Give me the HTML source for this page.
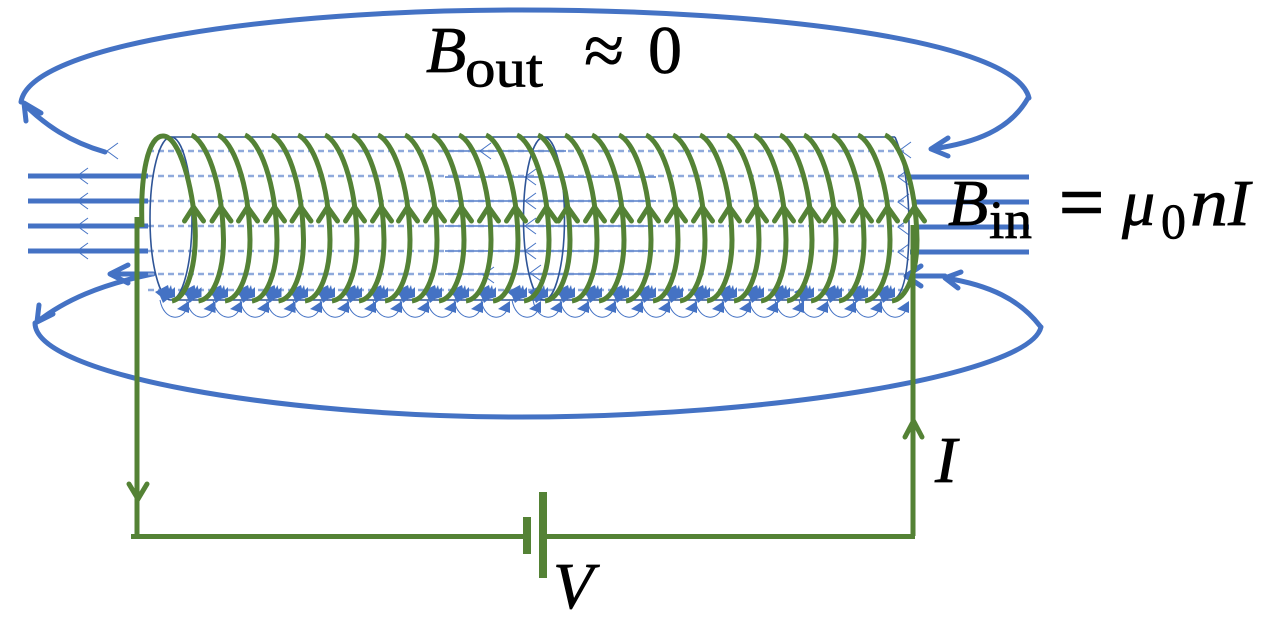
<!DOCTYPE html>
<html>
<head>
<meta charset="utf-8">
<title>Solenoid magnetic field diagram</title>
<style>
html,body{margin:0;padding:0;background:#fff;width:1281px;height:631px;overflow:hidden}
svg{display:block}
text{fill:#000;stroke:#000;stroke-width:.7px;font-family:"Liberation Serif",serif}
.it{font-style:italic}
</style>
</head>
<body>
<svg id="d" width="1281" height="631" viewBox="0 0 1281 631" xmlns="http://www.w3.org/2000/svg">
  <g id="loops" fill="none" stroke="#4472C4" stroke-width="5" stroke-linecap="round" stroke-linejoin="round">
    <path d="M21 102C30 45 270 10 520 10C770 10 1015 40 1029 98"/>
    <path d="M105 152C70 142 45 125 24 104M26 121L24 103L41 113"/>
    <path d="M1028 98C1010 130 975 143 932 149M948 138L931 149L948 156"/>
    <path d="M35 323C35 375 280 417 520 417C770 417 1030 375 1041 327"/>
    <path d="M152 274C100 285 65 300 37 322M39 305L37 322L53 314"/>
    <path d="M110 274H153M128 265L110 274L128 283"/>
    <path d="M1040 326C1020 300 990 285 945 278M961 272L945 278L958 288"/>
    <path d="M906 276H945M921 266L906 276L921 286"/>
  </g>
  <g id="fieldlines" stroke="#4472C4" stroke-width="5">
    <path d="M28 176H148"/>
    <path d="M28 201H148"/>
    <path d="M28 226H148"/>
    <path d="M28 251H148"/>
    <path d="M910 177H1029"/>
    <path d="M912 202H1029"/>
    <path d="M914 227H1029"/>
    <path d="M910 252H1029"/>
  </g>
  <g id="inner"></g>
  <g fill="none" stroke="#2F5597" stroke-width="1.6">
    <path d="M168 137H895"/>
    <path d="M172 300H895"/>
    <ellipse cx="171" cy="218.500" rx="21" ry="81.500"/>
    <ellipse cx="544" cy="218.500" rx="20.500" ry="81.500"/>
    <path d="M895 137C905 160 909 195 909 225C909 265 905 295 893 300"/>
  </g>
  <g id="bottoms"></g>
  <g id="coils" fill="none" stroke="#548235" stroke-width="5"></g>
  <g fill="none" stroke="#548235" stroke-width="5">
    <path d="M137 217V536"/>
    <path d="M913 225V536"/>
    <path d="M131 536.500H527"/>
    <path d="M543 536.500H915"/>
    <path d="M129 484L138 499L147 484" stroke-linecap="round"/>
    <path d="M905 437L913.500 421L922 437" stroke-linecap="round"/>
    <path d="M527 517V554" stroke-width="8"/>
    <path d="M543 492V578" stroke-width="8"/>
  </g>
  <text class="it" x="426" y="72" font-size="66">B</text>
  <text x="465" y="86.500" font-size="54" textLength="78" lengthAdjust="spacingAndGlyphs">out</text>
  <text x="584" y="75" font-size="73">≈</text>
  <text x="648" y="73" font-size="68">0</text>
  <text class="it" x="948" y="225" font-size="66">B</text>
  <text x="989" y="238" font-size="54" textLength="43" lengthAdjust="spacingAndGlyphs">in</text>
  <text x="1059" y="229" font-size="80" style="stroke-width:1.5px">=</text>
  <text class="it" x="1122" y="225" font-size="66">μ</text>
  <text x="1161" y="238" font-size="50">0</text>
  <text class="it" x="1190" y="225" font-size="68" textLength="38" lengthAdjust="spacingAndGlyphs">n</text>
  <text class="it" x="1228" y="225" font-size="66">I</text>
  <text class="it" x="935" y="482" font-size="66">I</text>
  <text class="it" x="553" y="608" font-size="66">V</text>
</svg>
<script>
var NS = 'http://www.w3.org/2000/svg';
var turnStarts = [163,191.500,218,245,271.500,298,325,352,378,405,432,459,486,517,538,565,592,619,646,673,700,727,754,780,804,832,858,885];
var fieldRows = [151,176,201,226,251,274,290];
var overlayRows = [151,177,201,226,251,274];
var thinArrowTips = [[77,176],[77,201],[77,226],[77,251],[107,151],[480,151],[483,275],[525,177],[525,201],[525,226],[525,251],[530,273],[898,177],[898,202],[898,227],[898,252],[900,150]];
function make(tag, parent, attrs) {
  var el = document.createElementNS(NS, tag);
  for (var k in attrs) el.setAttribute(k, attrs[k]);
  parent.appendChild(el);
  return el;
}
var inner = document.getElementById('inner');
fieldRows.forEach(function (y) {
  var dash = make('path', inner, {d: 'M148 ' + y + 'H905', stroke: '#8FAADC', 'stroke-width': 2.4, 'stroke-dasharray': '6 4', fill: 'none'});
  
  
});
overlayRows.forEach(function (y, i) {
  var line = make('path', inner, {d: 'M445 ' + y + 'H' + (i === 0 ? 566 : 656), stroke: '#6C8FD0', 'stroke-width': 1.8, fill: 'none'});
  
  
});
thinArrowTips.forEach(function (t) {
  var head = make('path', inner, {d: 'M' + (t[0] + 11) + ' ' + (t[1] - 8) + 'L' + t[0] + ' ' + t[1] + 'L' + (t[0] + 11) + ' ' + (t[1] + 8), stroke: '#4472C4', 'stroke-width': 1, fill: 'none'});
  
  
});
var bottoms = document.getElementById('bottoms');
var coils = document.getElementById('coils');
turnStarts.forEach(function (s) {
  var b = s === 163 ? 172 : s + 7;
  var arc = make('path', bottoms, {d: 'M' + (b - 12) + ' 300C' + (b - 8) + ' 322 ' + (b + 12) + ' 322 ' + (b + 16) + ' 305', stroke: '#4472C4', 'stroke-width': 1, fill: 'none'});
  
  
  var top = make('path', bottoms, {d: 'M' + (b - 17) + ' 292L' + (b - 4) + ' 285L' + (b - 3) + ' 289L' + (b - 1) + ' 285L' + b + ' 290L' + (b + 3) + ' 287V297L' + (b - 4) + ' 299L' + (b - 9) + ' 303L' + (b - 12) + ' 296Z', fill: '#4472C4'});
  
  
  var low = make('path', bottoms, {d: 'M' + (b + 5) + ' 309L' + (b + 17) + ' 301L' + (b + 17) + ' 313Z', fill: '#4472C4'});
  
  
  var d;
  if (s === 163) {
    d = 'M142 227C140 175 148 136 163 136C180 136 193 190 195 225C197 262 188 298 172 301';
  } else {
    d = 'M' + s + ' 135C' + (s + 14) + ' 141 ' + (s + 31) + ' 180 ' + (s + 32) + ' 240C' + (s + 32) + ' 272 ' + (s + 22) + ' 299 ' + (s + 7) + ' 301';
  }
  var turn = make('path', coils, {d: d});
  
  
  var a = s === 163 ? 193.500 : s + 29.500;
  var head = make('path', coils, {d: 'M' + (a - 9) + ' 221L' + a + ' 207L' + (a + 10) + ' 221', 'stroke-linecap': 'round'});
  
  
});
</script>
</body>
</html>
